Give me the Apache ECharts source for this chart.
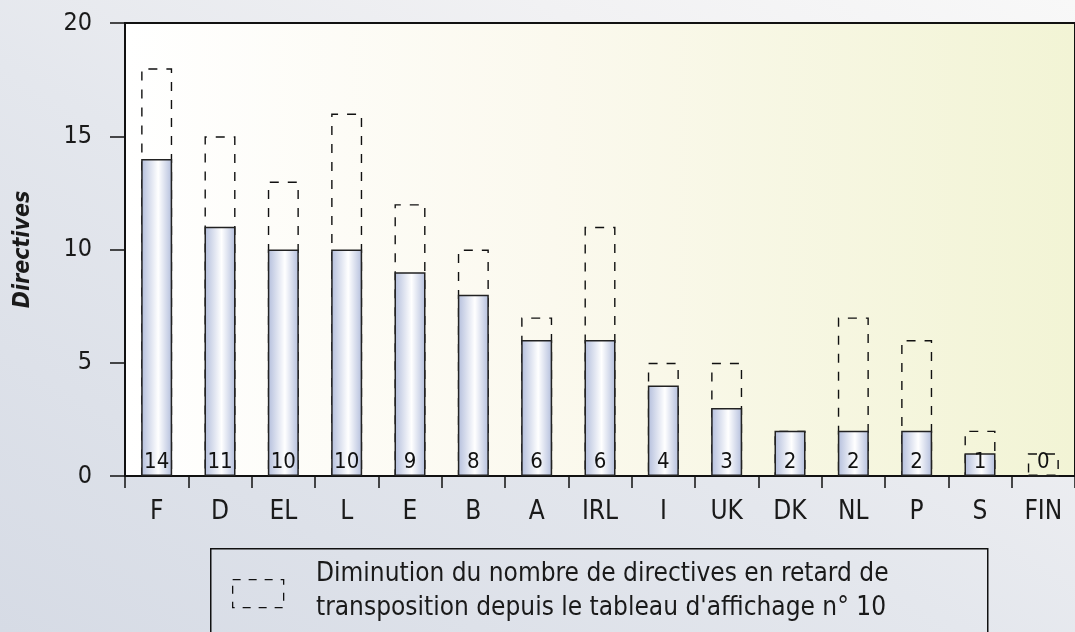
<!DOCTYPE html>
<html>
<head>
<meta charset="utf-8">
<script src="https://cdn.jsdelivr.net/npm/echarts@6/dist/echarts.min.js"></script>
<style>
html,body{margin:0;padding:0;}
body{width:1075px;height:632px;overflow:hidden;
background:linear-gradient(to top right,#d6dbe5 0%,#e4e7ed 45%,#f1f1f3 75%,#f8f8f8 100%);}
#chart{width:1075px;height:632px;}
</style>
</head>
<body>
<div id="chart"></div>
<script>
const categories = ['F','D','EL','L','E','B','A','IRL','I','UK','DK','NL','P','S','FIN'];
const currentValues = [14,11,10,10,9,8,6,6,4,3,2,2,2,1,0];
const previousValues = [18,15,13,16,12,10,7,11,5,5,2,7,6,2,1];
const yTicks = {min:0, max:20, interval:5};
const axisTitle = 'Directives';
const legendLines = ['Diminution du nombre de directives en retard de', "transposition depuis le tableau d'affichage n° 10"];

const FONT = "'DejaVu Sans Condensed','DejaVu Sans',sans-serif";
const chart = echarts.init(document.getElementById('chart'), null, {renderer:'canvas'});

const barGrad = {type:'linear',x:0,y:0,x2:1,y2:0,colorStops:[
  {offset:0,color:'#b3bedc'},{offset:0.55,color:'#ffffff'},{offset:1,color:'#b3bedc'}]};

chart.setOption({
  animation:false,
  backgroundColor:'transparent',
  grid:{left:125, top:23, width:963, height:453, show:true,
    borderColor:'#111', borderWidth:2,
    backgroundColor:{type:'linear',x:0,y:0,x2:1,y2:0,colorStops:[
      {offset:0,color:'#ffffff'},{offset:0.45,color:'#fbf9ee'},{offset:1,color:'#f2f4d5'}]}},
  xAxis:{type:'category', data:categories,
    axisLine:{lineStyle:{color:'#111',width:2}},
    axisTick:{show:true, interval:0, length:12, lineStyle:{color:'#111',width:1.5}},
    axisLabel:{interval:0, margin:23, fontSize:26, fontFamily:FONT, color:'#1a1a1a'}},
  yAxis:{type:'value', min:yTicks.min, max:yTicks.max, interval:yTicks.interval,
    name:axisTitle, nameLocation:'middle', nameGap:90, nameRotate:90,
    nameTextStyle:{fontSize:23, fontStyle:'italic', fontWeight:'bold', fontFamily:FONT, color:'#1a1a1a'},
    axisLine:{show:true, lineStyle:{color:'#111',width:2}},
    axisTick:{show:true, length:15, lineStyle:{color:'#111',width:1.5}},
    splitLine:{show:false},
    axisLabel:{margin:33, fontSize:25, fontFamily:FONT, color:'#1a1a1a'}},
  series:[
    {type:'bar', name:'prev', data:previousValues, barWidth:31, z:2,
      itemStyle:{color:'rgba(0,0,0,0)', borderColor:'#111', borderWidth:1.4, borderType:[9,9]},
      silent:true},
    {type:'bar', name:'cur', data:currentValues, barWidth:31, barGap:'-100%', z:3,
      itemStyle:{color:barGrad, borderColor:'#222', borderWidth:1.5},
      label:{show:true, position:'insideBottom', distance:3, fontSize:22, fontFamily:FONT, color:'#111'}}
  ],
  graphic:[
    {type:'rect', left:210, top:548, shape:{x:0,y:0,width:777,height:120},
      style:{fill:'rgba(0,0,0,0)', stroke:'#111', lineWidth:1.5}},
    {type:'rect', left:232, top:579, shape:{x:0,y:0,width:51,height:28},
      style:{fill:'rgba(0,0,0,0)', stroke:'#111', lineWidth:1.3, lineDash:[8,8]}},
    {type:'text', x:316, y:574, style:{text:legendLines[0], font:'26px '+FONT, fill:'#1a1a1a', verticalAlign:'middle'}},
    {type:'text', x:316, y:608, style:{text:legendLines[1], font:'26px '+FONT, fill:'#1a1a1a', verticalAlign:'middle'}}
  ]
});
</script>
</body>
</html>
